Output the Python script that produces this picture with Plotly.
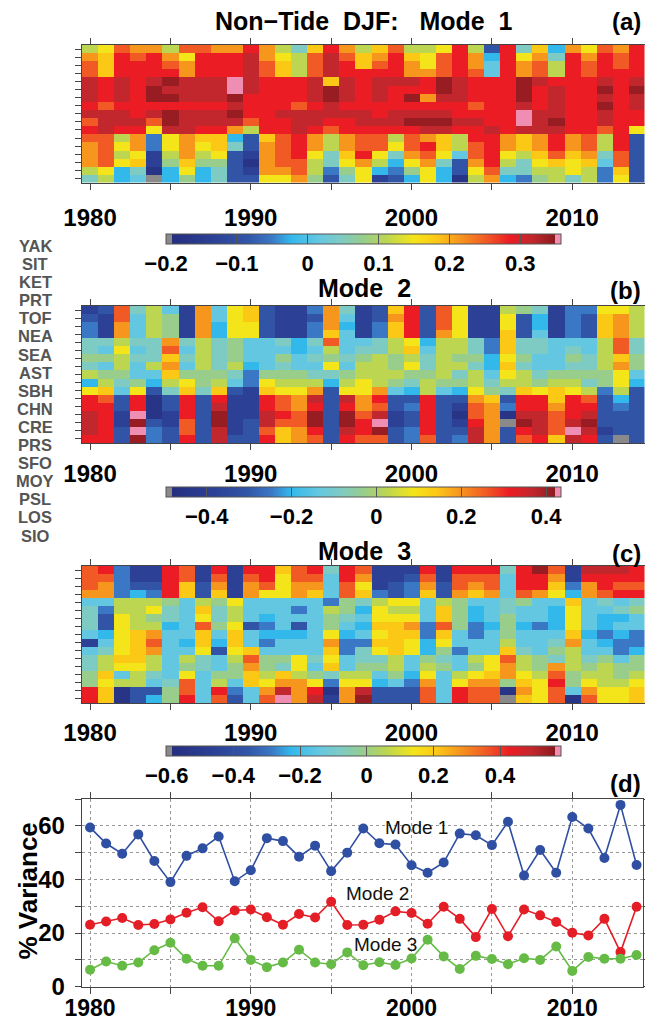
import plotly.graph_objects as go

W, H = 645, 1025
FONT = "Liberation Sans, Arial, Helvetica, sans-serif"

years = list(range(1980, 2015))
stations = ["YAK", "SIT", "KET", "PRT", "TOF", "NEA", "SEA", "AST", "SBH",
            "CHN", "CRE", "PRS", "SFO", "MOY", "PSL", "LOS", "SIO"]

# colour-level codes read from each cell (0 = darkest blue ... F = darkest red,
# g = below colour-bar minimum (grey), p = above maximum (pink)); one string per station, 1980..2014
mode1_grid = [
    "89CBB8CCBBDB86ADB8AC889D82D6A4B9CBD",
    "BADCDB9DDDEB98CECABDA9CDB4D9B6DBDCD",
    "CADDDCBDDDECA8CEDACDB9CDB5DBC8DCDCD",
    "CADDDDBDDDECA8CEDDDDBBCDC5DBC8DCDDD",
    "EDEDEFEEEpEDDDEAEDEEEDFEDDDFEDDDEDE",
    "EDEDFEEEEpEDDDEFEDEDDDFEDDDFDEDDFDF",
    "EDEDFFEEEFDDDDEFEDEDFBEEDDDFDEDDEDE",
    "DCDDDDDDDEDDDCDEDDDDDDDDCDDEDEDDFDE",
    "EEEDEFEEEFDDEEEEEEDEEEEDDDDpEEDDEDD",
    "CEEECFEEEECDDEEDDEEEFFFEEDDpEFDDEDD",
    "DEDD9EEDDB8DDEDCDDDDDEEDDEDEEEDDCD9",
    "CC8B39BAA42ACDB8BCC8CBA8DDBABDBC8D2",
    "BC9B39B9A62BCDB8BCC9CDA8CDBABDBC8D2",
    "BC8918B8921BCD96AD96BC95CD98ACAB6C2",
    "BC9A17A7720BCC869B849B62BD869A9A5C2",
    "89460494621BBC83794379429C6688983A2",
    "6845g47462299B72691249408B437868392",
]
mode2_grid = [
    "12C6851B59A2113B612AD2C911876133998",
    "21C5871B59A2112B512BD2C911924132AB8",
    "31B5871B4992113B413AD2C911924132AB8",
    "31B5871B4992113A513AD2B911A25132AB8",
    "66866B686755646C5568948863A665558C6",
    "65956C58675554585668A58863A665658C6",
    "77866A686755756767878687749755768A7",
    "65858B58684565595887968864A655668B7",
    "87755A77763777667888778685986777795",
    "48674897853988848987687786887886794",
    "9A5926A6A21A99B299B54854976A9A98382",
    "DC2D02D2D11DCBE2EBD22D22BA2DDADC242",
    "DD2D02D2E11DCBD2DBC23D21CB3DDBDD232",
    "ED1p01D2F11EDCF2FCE12D20CB0EECDE222",
    "ED1F21C2F12ECCF2FDp12D21DBgFECEF222",
    "ED2p32C2E12CABD2EDF23D22EB2DECpE122",
    "DD2F32D2E22DABC2DCC23C23EB2CDAED2g2",
]
mode3_grid = [
    "CD311DC1D1DDACD6DC111D1DDD6DFC1EEED",
    "CC311DC1C1CD9CC5DB112C1CCC5DDB1DDDD",
    "CB322DA2B1BC9BB5C9123B2CBC5DDA3BDCC",
    "BB343DA2A1B99BA5CA323A2BAB5CB94BCDD",
    "558887587955555376899587556755A5656",
    "6388965A68555358749885A745655495567",
    "6298765968545557659995A745755495445",
    "6298845C7923525754AAB3C734743495455",
    "549AB55A5A544459459AA3A5357555A4343",
    "159AC54A4A53555B33AA9495558556B5433",
    "569AB55929A5555A369A947355A65785534",
    "68AA858658C779695668576589C87686757",
    "6899857657B7695A5778587579B87B87877",
    "7A58659577A8A876885749589AB98C78878",
    "798856C585A9BB9399453B59BB7A9D79889",
    "DA0227C5D35BEBD0BE222C5DCC0B9C5B99A",
    "DA0247D5C25CpBE1BF222C5DCCgA9C0C99A",
]

# colour-bar ranges (value at grey end, value at pink end) and tick values
cbar_range_1 = (-0.200, 0.3575)
cbar_range_2 = (-0.496, 0.435)
cbar_range_3 = (-0.602, 0.583)
cbar_ticks_1 = [-0.2, -0.1, 0, 0.1, 0.2, 0.3]
cbar_ticks_2 = [-0.4, -0.2, 0, 0.2, 0.4]
cbar_ticks_3 = [-0.6, -0.4, -0.2, 0, 0.2, 0.4]

# % variance explained
mode1_var = [59.4, 53.4, 49.6, 56.8, 46.9, 39.0, 48.8, 51.6, 56.0, 39.3, 43.4, 55.4,
             54.3, 48.5, 52.6, 43.1, 50.0, 59.0, 53.5, 53.0, 45.3, 42.5, 46.3, 57.1,
             56.5, 52.8, 61.5, 41.5, 51.0, 42.5, 63.3, 59.0, 48.0, 67.8, 45.4]
mode2_var = [23.1, 24.3, 25.6, 23.0, 23.4, 25.1, 27.6, 29.6, 24.4, 28.4, 28.8, 25.9,
             23.1, 27.1, 25.8, 31.7, 23.0, 23.1, 25.0, 28.1, 27.5, 23.5, 29.8, 25.3,
             18.5, 29.0, 18.8, 28.8, 26.6, 24.1, 20.1, 19.1, 25.3, 12.9, 29.8]
mode3_var = [6.3, 9.4, 7.8, 9.0, 13.6, 16.4, 10.4, 7.8, 7.8, 18.1, 10.0, 7.3,
             9.0, 13.8, 9.0, 8.4, 12.8, 8.0, 9.1, 8.1, 10.5, 17.5, 11.3, 6.6,
             11.5, 10.3, 8.4, 10.6, 10.0, 15.0, 5.9, 11.1, 10.4, 10.4, 11.8]

# ---------------------------------------------------------------- colour scale
GREY, PINK = "#8a8a8a", "#ef8db3"
E0, E1 = 0.0152, 0.986          # end boxes of the colour bar
main_stops = [(0.00, "#262f7f"), (0.10, "#2b3f94"), (0.20, "#3256a8"), (0.26, "#3a78c6"),
              (0.31, "#33b8ec"), (0.38, "#63c7e1"), (0.44, "#7ecbc4"), (0.50, "#98cd8c"),
              (0.56, "#bdd651"), (0.63, "#f4e51a"), (0.69, "#fcc816"), (0.75, "#f7961d"),
              (0.82, "#f15a24"), (0.88, "#ec1c24"), (0.94, "#c1272d"), (1.00, "#8a1a1e")]
colorscale = [[0.0, GREY], [E0, GREY]]
colorscale += [[E0 + m * (E1 - E0), c] for m, c in main_stops]
colorscale += [[E1, PINK], [1.0, PINK]]

level_m = {"0": 0.03, "1": 0.11, "2": 0.19, "3": 0.26, "4": 0.31, "5": 0.38, "6": 0.44,
           "7": 0.50, "8": 0.56, "9": 0.63, "A": 0.69, "B": 0.75, "C": 0.82, "D": 0.88,
           "E": 0.94, "F": 0.985}


def decode(grid, rng):
    lo, hi = rng
    out = []
    for row in grid:
        vals = []
        for ch in row:
            if ch == "g":
                f = E0 / 2
            elif ch == "p":
                f = (1 + E1) / 2
            else:
                f = E0 + level_m[ch] * (E1 - E0)
            vals.append(lo + f * (hi - lo))
        out.append(vals)
    return out


def px(x):
    return x / W


def py(y):
    return 1 - y / H


BOLD = dict(family=FONT, color="black", weight="bold")
fig = go.Figure()

heat_x_dom = [px(82), px(644.5)]
panels = [
    (mode1_grid, cbar_range_1, cbar_ticks_1, (45, 182.5), 234, 8),
    (mode2_grid, cbar_range_2, cbar_ticks_2, (306, 443), 486.5, 3),
    (mode3_grid, cbar_range_3, cbar_ticks_3, (566, 703), 745.5, 2),
]
layout_axes = {}
for i, (grid, rng, cticks, (ytop, ybot), cb_top, standoff) in enumerate(panels):
    n = i + 1
    xa = "x" if n == 1 else f"x{n}"
    ya = "y" if n == 1 else f"y{n}"
    fig.add_trace(go.Heatmap(
        x=years, y=stations, z=decode(grid, rng), zmin=rng[0], zmax=rng[1],
        colorscale=colorscale, xaxis=xa, yaxis=ya, hoverinfo="skip",
        colorbar=dict(orientation="h", x=px(363.5), xanchor="center",
                      len=395 / W, lenmode="fraction", y=py(cb_top), yanchor="top",
                      thickness=10, xpad=0, ypad=0, tickvals=cticks, ticks="inside",
                      ticklen=10, tickcolor="#555", outlinewidth=1, outlinecolor="#555",
                      tickfont=dict(size=22, **BOLD)),
    ))
    xkey = "xaxis" if n == 1 else f"xaxis{n}"
    ykey = "yaxis" if n == 1 else f"yaxis{n}"
    layout_axes[xkey] = dict(
        domain=heat_x_dom, anchor=ya, range=[1979.5, 2014.5],
        tickvals=list(range(1980, 2011, 5)),
        ticktext=["1980", "", "1990", "", "2000", "", "2010"],
        ticks="outside", ticklen=6, tickcolor="#444", showline=True, linecolor="#444",
        mirror="ticks", showgrid=False, zeroline=False, ticklabelstandoff=standoff,
        automargin=False, tickfont=dict(size=24, **BOLD))
    layout_axes[ykey] = dict(
        domain=[py(ybot), py(ytop)], anchor=xa, type="category", autorange="reversed",
        tickvals=stations, showticklabels=False, ticks="outside", ticklen=6,
        tickcolor="#444", showline=True, linecolor="#444", mirror="ticks",
        showgrid=False, zeroline=False, automargin=False)

# ---------------------------------------------------------------- panel (d)
line_colors = ["#2f4fa2", "#e41e26", "#66bb46"]
for vals, col in zip([mode1_var, mode2_var, mode3_var], line_colors):
    fig.add_trace(go.Scatter(
        x=years, y=vals, mode="lines+markers", xaxis="x4", yaxis="y4",
        line=dict(color=col, width=1.6), marker=dict(color=col, size=10),
        showlegend=False, hoverinfo="skip"))

layout_axes["xaxis4"] = dict(
    domain=[px(81.7), px(643)], anchor="y4", range=[1979.48, 2014.4],
    tickvals=list(range(1980, 2011, 5)),
    ticktext=["1980", "", "1990", "", "2000", "", "2010"],
    ticks="outside", ticklen=6, tickcolor="#444", showline=True, linecolor="#444",
    mirror="ticks", showgrid=True, gridcolor="#999", griddash="dot", gridwidth=1,
    zeroline=False, ticklabelstandoff=-5, automargin=False,
    tickfont=dict(size=23, **BOLD))
layout_axes["yaxis4"] = dict(
    domain=[py(986.7), py(799)], anchor="x4", range=[0, 70],
    tickvals=list(range(0, 71, 10)),
    ticktext=["0", "", "20", "", "40", "", "60", ""],
    ticks="outside", ticklen=6, tickcolor="#444", showline=True, linecolor="#444",
    mirror="ticks", showgrid=True, gridcolor="#999", griddash="dot", gridwidth=1,
    zeroline=False, ticklabelstandoff=5, automargin=False,
    tickfont=dict(size=24, **BOLD))

# ---------------------------------------------------------------- annotations
NB = "\u00a0"
ann = []
titles = [("Non\u2212Tide" + NB * 2 + "DJF:" + NB * 3 + "Mode" + NB * 2 + "1", 21, "(a)", 21),
          ("Mode" + NB * 2 + "2", 288, "(b)", 290),
          ("Mode" + NB * 2 + "3", 551, "(c)", 553)]
for t, ty, lab, ly in titles:
    ann.append(dict(text=t, x=px(364), y=py(ty), xref="paper", yref="paper",
                    xanchor="center", yanchor="middle", showarrow=False,
                    font=dict(size=25, **BOLD)))
    ann.append(dict(text=lab, x=px(643), y=py(ly), xref="paper", yref="paper",
                    xanchor="right", yanchor="middle", showarrow=False,
                    font=dict(size=24, **BOLD)))
ann.append(dict(text="(d)", x=px(643), y=py(783), xref="paper", yref="paper",
                xanchor="right", yanchor="middle", showarrow=False,
                font=dict(size=24, **BOLD)))

y0, dy = 246, (535.5 - 246) / 16
for k, s in enumerate(stations):
    ann.append(dict(text=s, x=px(35), y=py(y0 + k * dy), xref="paper", yref="paper",
                    xanchor="center", yanchor="middle", showarrow=False,
                    font=dict(size=16.5, family=FONT, color="#555", weight="bold")))

ann.append(dict(text="% Variance", x=px(27.5), y=py(891), xref="paper", yref="paper",
                textangle=-90, xanchor="center", yanchor="middle", showarrow=False,
                font=dict(size=26, **BOLD)))

mode_labels = [("Mode 1", 2000.3, 59.5), ("Mode 2", 1997.9, 34.6), ("Mode 3", 1998.4, 15.8)]
for t, xv, yv in mode_labels:
    ann.append(dict(text=t, x=xv, y=yv, xref="x4", yref="y4", showarrow=False,
                    xanchor="center", yanchor="middle",
                    font=dict(size=19, family=FONT, color="#111", weight=500)))

fig.update_layout(
    width=W, height=H, margin=dict(l=0, r=0, t=0, b=0, autoexpand=False),
    paper_bgcolor="white", plot_bgcolor="white", showlegend=False,
    annotations=ann, **layout_axes)

fig.write_html("out.html")
